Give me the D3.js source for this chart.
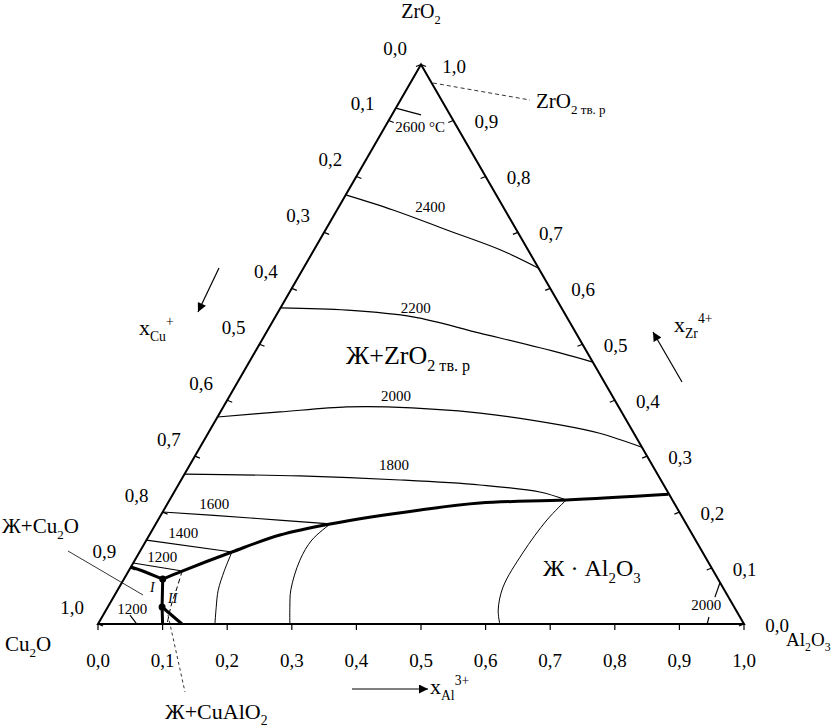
<!DOCTYPE html>
<html>
<head>
<meta charset="utf-8">
<script src="https://cdn.jsdelivr.net/npm/d3@7"></script>
<style>
  body { margin: 0; background: #fff; }
  text { font-family: "Liberation Serif", "DejaVu Serif", serif; fill: #000; }
</style>
</head>
<body>
<div id="chart"></div>
<script>
// all compositions are [x_Al, x_Zr]; x_Cu = 1 - x_Al - x_Zr
var tickValues = d3.range(0, 11).map(function(i) { return i / 10; });

var iso2600 = [[0, 0.922], [0.045, 0.91]];
var iso2400 = [[0, 0.767], [0.0867, 0.74], [0.188, 0.7043], [0.288, 0.669], [0.364, 0.636]];
var iso2200 = [[0, 0.565], [0.105, 0.561], [0.213, 0.549], [0.331, 0.52], [0.473, 0.4845], [0.532, 0.468]];
var iso2000 = [[0, 0.37], [0.092, 0.379], [0.191, 0.388], [0.253, 0.388], [0.403, 0.377], [0.537, 0.356], [0.606, 0.341], [0.684, 0.316]];
var iso1800 = [[0, 0.268], [0.18, 0.2646], [0.339, 0.2574], [0.467, 0.2485], [0.566, 0.236], [0.614, 0.2217]];
var iso1600 = [[0, 0.2002], [0.141, 0.1895], [0.27, 0.1788]];
var iso1400 = [[0, 0.15], [0.143, 0.1287]];
var iso1200a = [[0, 0.109], [0.083, 0.0947]];
var iso1200b = [[0.0415, 0.016], [0.052, 0.007], [0.06, 0]];
var iso2000Al = [[0.926, 0.0733], [0.931, 0.048]];
var iso2000AlLow = [[0.9395, 0.0125], [0.943, 0]];

// Ж+ZrO2 / Ж+Al2O3 boundary
var boundaryZr = [[0.767, 0.232], [0.614, 0.2217], [0.483, 0.2163], [0.397, 0.2038], [0.27, 0.1788], [0.202, 0.159], [0.143, 0.1287], [0.083, 0.0947], [0.06, 0.0804]];
var boundaryCu = [[0, 0.102], [0.022, 0.0947], [0.06, 0.0804]];
var boundaryI = [[0.06, 0.0804], [0.084, 0.0304], [0.1, 0]];
var boundaryII = [[0.084, 0.0304], [0.13, 0]];
var pointsInv = [[0.06, 0.0804, "I"], [0.084, 0.0304, "II"]];

// Al2O3 liquidus lines
var liqA = [[0.143, 0.1287], [0.148, 0.095], [0.156, 0.06], [0.168, 0.03], [0.181, 0]];
var liqB = [[0.27, 0.1788], [0.256, 0.15], [0.2555, 0.114], [0.268, 0.061], [0.282, 0.03], [0.297, 0]];
var liqC = [[0.614, 0.2217], [0.602, 0.186], [0.594, 0.127], [0.594, 0.066], [0.607, 0.025], [0.622, 0]];
var dashCurve = [[0.083, 0.0947], [0.09, 0.0644], [0.097, 0.032], [0.107, 0]];

var isoLabels = [
  ["2600 °C", 0.059, 0.8795], ["2400", 0.146, 0.7365], ["2200", 0.214, 0.556],
  ["2000", 0.262, 0.3986], ["1800", 0.3206, 0.2753], ["1600", 0.077, 0.2056],
  ["1400", 0.055, 0.1537], ["1200", 0.044, 0.1108], ["1200", 0.044, 0.0179],
  ["2000", 0.929, 0.025]
];

var width = 834, height = 728;
var svg = d3.select("#chart").append("svg")
    .attr("width", width)
    .attr("height", height)
    .attr("font-family", "'Liberation Serif', 'DejaVu Serif', serif");

var S3 = Math.sqrt(3) / 2;
var x = d3.scaleLinear().domain([0, 1]).range([98, 744]);
var y = d3.scaleLinear().domain([0, S3]).range([624, 624 - 646 * S3]);

function px(d) { return [x(d[0] + d[1] / 2), y(d[1] * S3)]; }

var line = d3.line()
    .x(function(d) { return px(d)[0]; })
    .y(function(d) { return px(d)[1]; })
    .curve(d3.curveCatmullRom.alpha(0.5));
var straight = d3.line()
    .x(function(d) { return px(d)[0]; })
    .y(function(d) { return px(d)[1]; });

var defs = svg.append("defs");
defs.append("marker")
    .attr("id", "arr")
    .attr("viewBox", "0 0 10 10")
    .attr("refX", 10).attr("refY", 5)
    .attr("markerWidth", 15).attr("markerHeight", 9)
    .attr("markerUnits", "userSpaceOnUse")
    .attr("orient", "auto")
  .append("path")
    .attr("d", "M0,0 L10,5 L0,10 z")
    .attr("fill", "#000");

// triangle
var corners = [[0, 0], [1, 0], [0, 1]];
svg.append("path")
    .attr("d", straight(corners) + "Z")
    .attr("fill", "none")
    .attr("stroke", "#000")
    .attr("stroke-width", 2);

function fmt(v) { return d3.format(".1f")(v).replace(".", ","); }

// bottom ticks (x_Al)
tickValues.forEach(function(t) {
  var p = px([t, 0]);
  svg.append("line").attr("x1", p[0]).attr("y1", p[1]).attr("x2", p[0]).attr("y2", p[1] + 6)
      .attr("stroke", "#000").attr("stroke-width", 1.2);
  svg.append("text").attr("x", p[0]).attr("y", p[1] + 43)
      .attr("text-anchor", "middle").style("font-size", "19px").text(fmt(t));
});

// left edge ticks (x_Cu), 0 at top
tickValues.forEach(function(t) {
  var p = px([0, 1 - t]);
  svg.append("line").attr("x1", p[0]).attr("y1", p[1]).attr("x2", p[0] + 5).attr("y2", p[1] + 2)
      .attr("stroke", "#000").attr("stroke-width", 1.2);
  svg.append("text").attr("x", p[0] - 26).attr("y", p[1] - 10)
      .attr("text-anchor", "middle").style("font-size", "19px").text(fmt(t));
});

// right edge ticks (x_Zr), 0 at Al2O3
tickValues.forEach(function(t) {
  var p = px([1 - t, t]);
  svg.append("line").attr("x1", p[0]).attr("y1", p[1]).attr("x2", p[0] - 5).attr("y2", p[1] + 2)
      .attr("stroke", "#000").attr("stroke-width", 1.2);
  svg.append("text").attr("x", p[0] + 33).attr("y", p[1] + 8)
      .attr("text-anchor", "middle").style("font-size", "19px").text(fmt(t));
});

// isotherms
[iso2600, iso2400, iso2200, iso2000, iso1800, iso1600, iso1400, iso1200a, iso1200b, iso2000Al, iso2000AlLow]
  .forEach(function(c) {
    svg.append("path").attr("d", line(c)).attr("fill", "none")
        .attr("stroke", "#000").attr("stroke-width", 1.2);
  });

[liqA, liqB, liqC].forEach(function(c) {
  svg.append("path").attr("d", line(c)).attr("fill", "none")
      .attr("stroke", "#000").attr("stroke-width", 1);
});

svg.append("path").attr("d", line(dashCurve)).attr("fill", "none")
    .attr("stroke", "#000").attr("stroke-width", 1).attr("stroke-dasharray", "5,3");

// thick boundaries
svg.append("path").attr("d", line(boundaryZr)).attr("fill", "none")
    .attr("stroke", "#000").attr("stroke-width", 3);
[boundaryCu, boundaryI, boundaryII].forEach(function(c) {
  svg.append("path").attr("d", straight(c)).attr("fill", "none")
      .attr("stroke", "#000").attr("stroke-width", 3);
});

svg.selectAll(".inv").data(pointsInv).enter().append("circle")
    .attr("cx", function(d) { return px(d)[0]; })
    .attr("cy", function(d) { return px(d)[1]; })
    .attr("r", 3.5).attr("fill", "#000");

svg.append("text").attr("x", 150).attr("y", 592).style("font-size", "14px")
    .style("font-style", "italic").text("I");
svg.append("text").attr("x", 168).attr("y", 603).style("font-size", "14px")
    .style("font-style", "italic").text("II");

isoLabels.forEach(function(d) {
  var p = px([d[1], d[2]]);
  svg.append("text").attr("x", p[0]).attr("y", p[1])
      .attr("text-anchor", "middle").style("font-size", "15px").text(d[0]);
});

// rich text helper: parts = [text, "n"|"sub"|"sup"]
function rich(xp, yp, parts, size, anchor) {
  var t = svg.append("text").attr("x", xp).attr("y", yp)
      .style("font-size", size + "px").attr("text-anchor", anchor || "start");
  var cur = 0;
  parts.forEach(function(p) {
    var off = p[1] === "sub" ? size * 0.28 : p[1] === "sup" ? -size * 0.4 : 0;
    t.append("tspan").attr("dy", off - cur)
        .style("font-size", (p[1] === "n" ? size : size * 0.62) + "px")
        .text(p[0]);
    cur = off;
  });
  return t;
}

// vertex labels
rich(421, 18, [["ZrO", "n"], ["2", "sub"]], 20, "middle");
rich(5, 651, [["Cu", "n"], ["2", "sub"], ["O", "n"]], 21);
rich(786, 646, [["Al", "n"], ["2", "sub"], ["O", "n"], ["3", "sub"]], 19);

// axis titles and arrows
rich(139, 335, [["x", "n"], ["Cu", "sub"], ["+", "sup"]], 22);
rich(674, 332, [["x", "n"], ["Zr", "sub"], ["4+", "sup"]], 22);
rich(430, 694, [["x", "n"], ["Al", "sub"], ["3+", "sup"]], 22);

[[219, 268, 198, 312], [682, 382, 653, 332], [352, 689, 428, 689]].forEach(function(a) {
  svg.append("line").attr("x1", a[0]).attr("y1", a[1]).attr("x2", a[2]).attr("y2", a[3])
      .attr("stroke", "#000").attr("stroke-width", 1.2).attr("marker-end", "url(#arr)");
});

// region labels
rich(346, 364, [["Ж+ZrO", "n"], ["2 тв. р", "sub"]], 26);
rich(543, 576, [["Ж · Al", "n"], ["2", "sub"], ["O", "n"], ["3", "sub"]], 24);
rich(2, 533, [["Ж+Cu", "n"], ["2", "sub"], ["O", "n"]], 21);
rich(165, 719, [["Ж+CuAlO", "n"], ["2", "sub"]], 22);
rich(536, 108, [["ZrO", "n"], ["2 тв. р", "sub"]], 21);

// leaders
svg.append("line").attr("x1", 433).attr("y1", 83).attr("x2", 530).attr("y2", 100)
    .attr("stroke", "#000").attr("stroke-width", 0.8).attr("stroke-dasharray", "4,3");
svg.append("line").attr("x1", 68).attr("y1", 551).attr("x2", 143).attr("y2", 595)
    .attr("stroke", "#000").attr("stroke-width", 0.8);
svg.append("line").attr("x1", 168).attr("y1", 615).attr("x2", 185).attr("y2", 692)
    .attr("stroke", "#000").attr("stroke-width", 0.8).attr("stroke-dasharray", "3,3");
</script>
</body>
</html>
